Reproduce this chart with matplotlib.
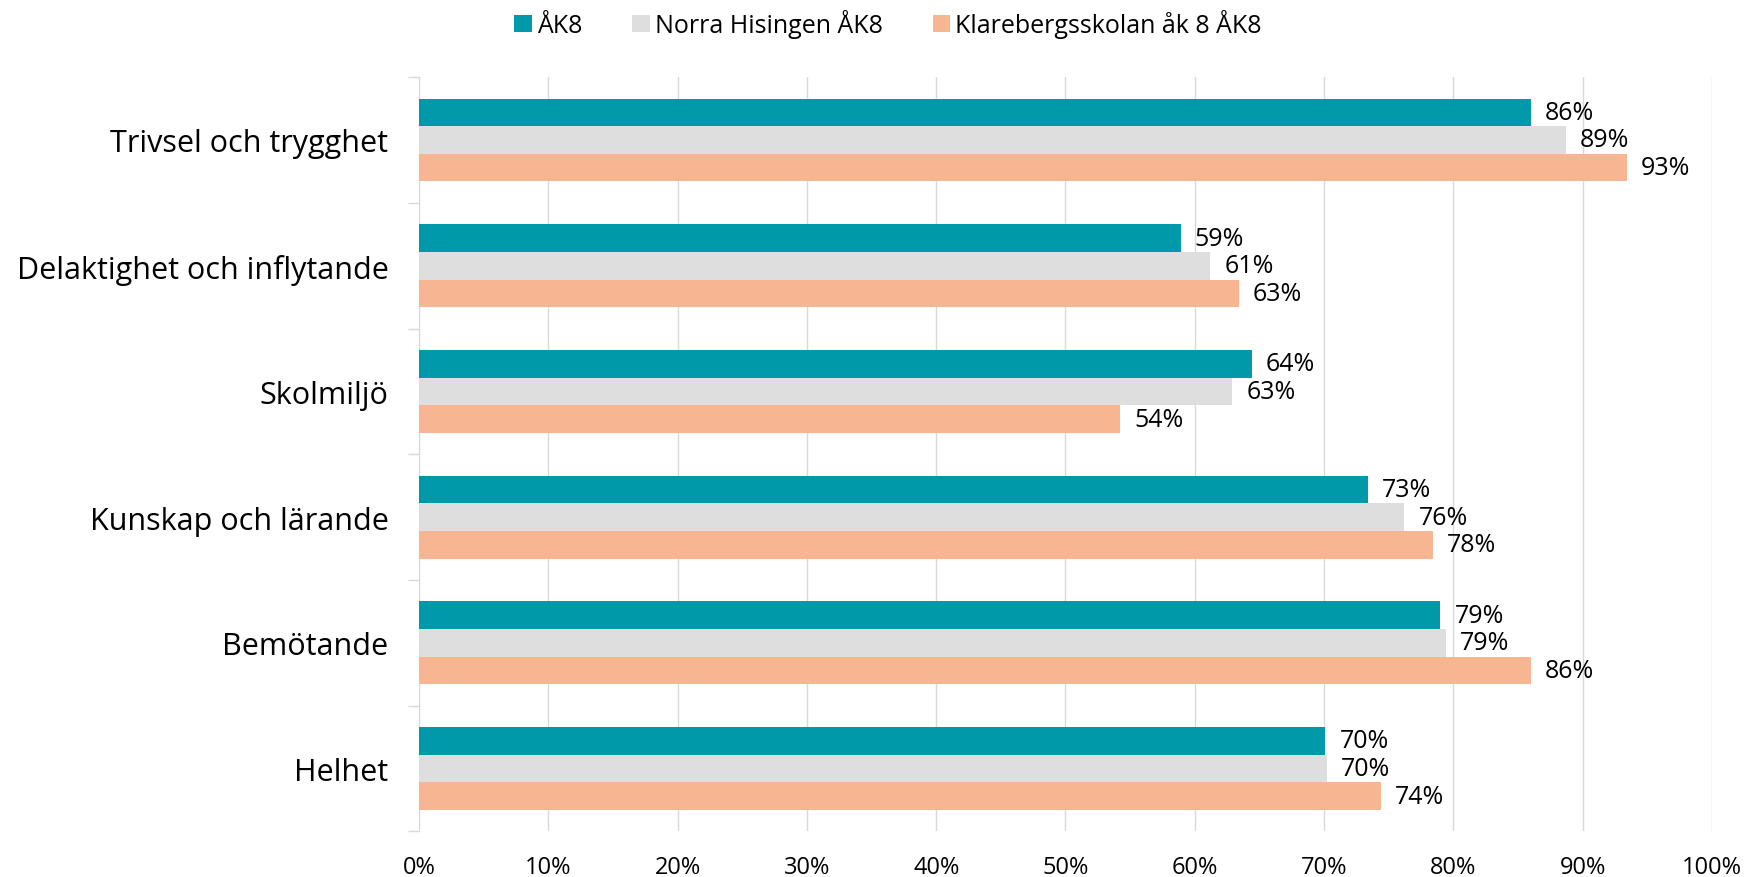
import numpy as np
from matplotlib import pyplot as plt
from matplotlib.ticker import PercentFormatter

plt.rcParams['font.family'] = ['Open Sans', 'DejaVu Sans']

categories = ['Trivsel och trygghet', 'Delaktighet och inflytande', 'Skolmiljö',
              'Kunskap och lärande', 'Bemötande', 'Helhet']
series_names = ['ÅK8', 'Norra Hisingen ÅK8', 'Klarebergsskolan åk 8 ÅK8']
ak8 = [86.0, 58.9, 64.4, 73.4, 79.0, 70.1]
norra = [88.7, 61.2, 62.9, 76.2, 79.4, 70.2]
klareberg = [93.4, 63.4, 54.2, 78.4, 86.0, 74.4]
colors = ['#0099aa', '#dedede', '#f8b592']


def main():
    fig = plt.figure(figsize=(17.48, 8.78), dpi=100)
    ax = fig.add_axes([0.2397, 0.052, 0.7397, 0.859])

    y = np.arange(len(categories))
    h = 0.22
    for i, (vals, name) in enumerate(zip([ak8, norra, klareberg], series_names)):
        pos = y + (i - 1) * h
        bars = ax.barh(pos, vals, height=h, color=colors[i], label=name, zorder=3)
        for b, v in zip(bars, vals):
            ax.text(b.get_width() + 1.1, b.get_y() + b.get_height() / 2,
                    '%d%%' % round(v), va='center', ha='left', fontsize=18,
                    color='#000000')

    ax.set_xlim(0, 100)
    ax.set_ylim(len(categories) - 0.5, -0.5)
    ax.set_xticks(np.arange(0, 101, 10))
    ax.xaxis.set_major_formatter(PercentFormatter(decimals=0))
    ax.tick_params(axis='x', length=0, labelsize=17, pad=17)
    ax.grid(axis='x', color='#d9d9d9', linewidth=1.0, zorder=0)

    ax.set_yticks(y)
    ax.set_yticklabels(categories, fontsize=22)
    ax.tick_params(axis='y', which='major', length=0, pad=22)
    ax.set_yticks(np.arange(-0.5, len(categories)), minor=True)
    ax.tick_params(axis='y', which='minor', length=8, color='#d9d9d9', width=1)

    for s in ['top', 'right', 'bottom']:
        ax.spines[s].set_visible(False)
    ax.spines['left'].set_color('#d9d9d9')

    fig.legend(loc='upper center', bbox_to_anchor=(0.508, 1.014), ncol=3, frameon=False,
               fontsize=18, handlelength=0.7, handleheight=0.7, handletextpad=0.2,
               columnspacing=2.0)

    plt.savefig('out.png')


if __name__ == "__main__":
    main()
